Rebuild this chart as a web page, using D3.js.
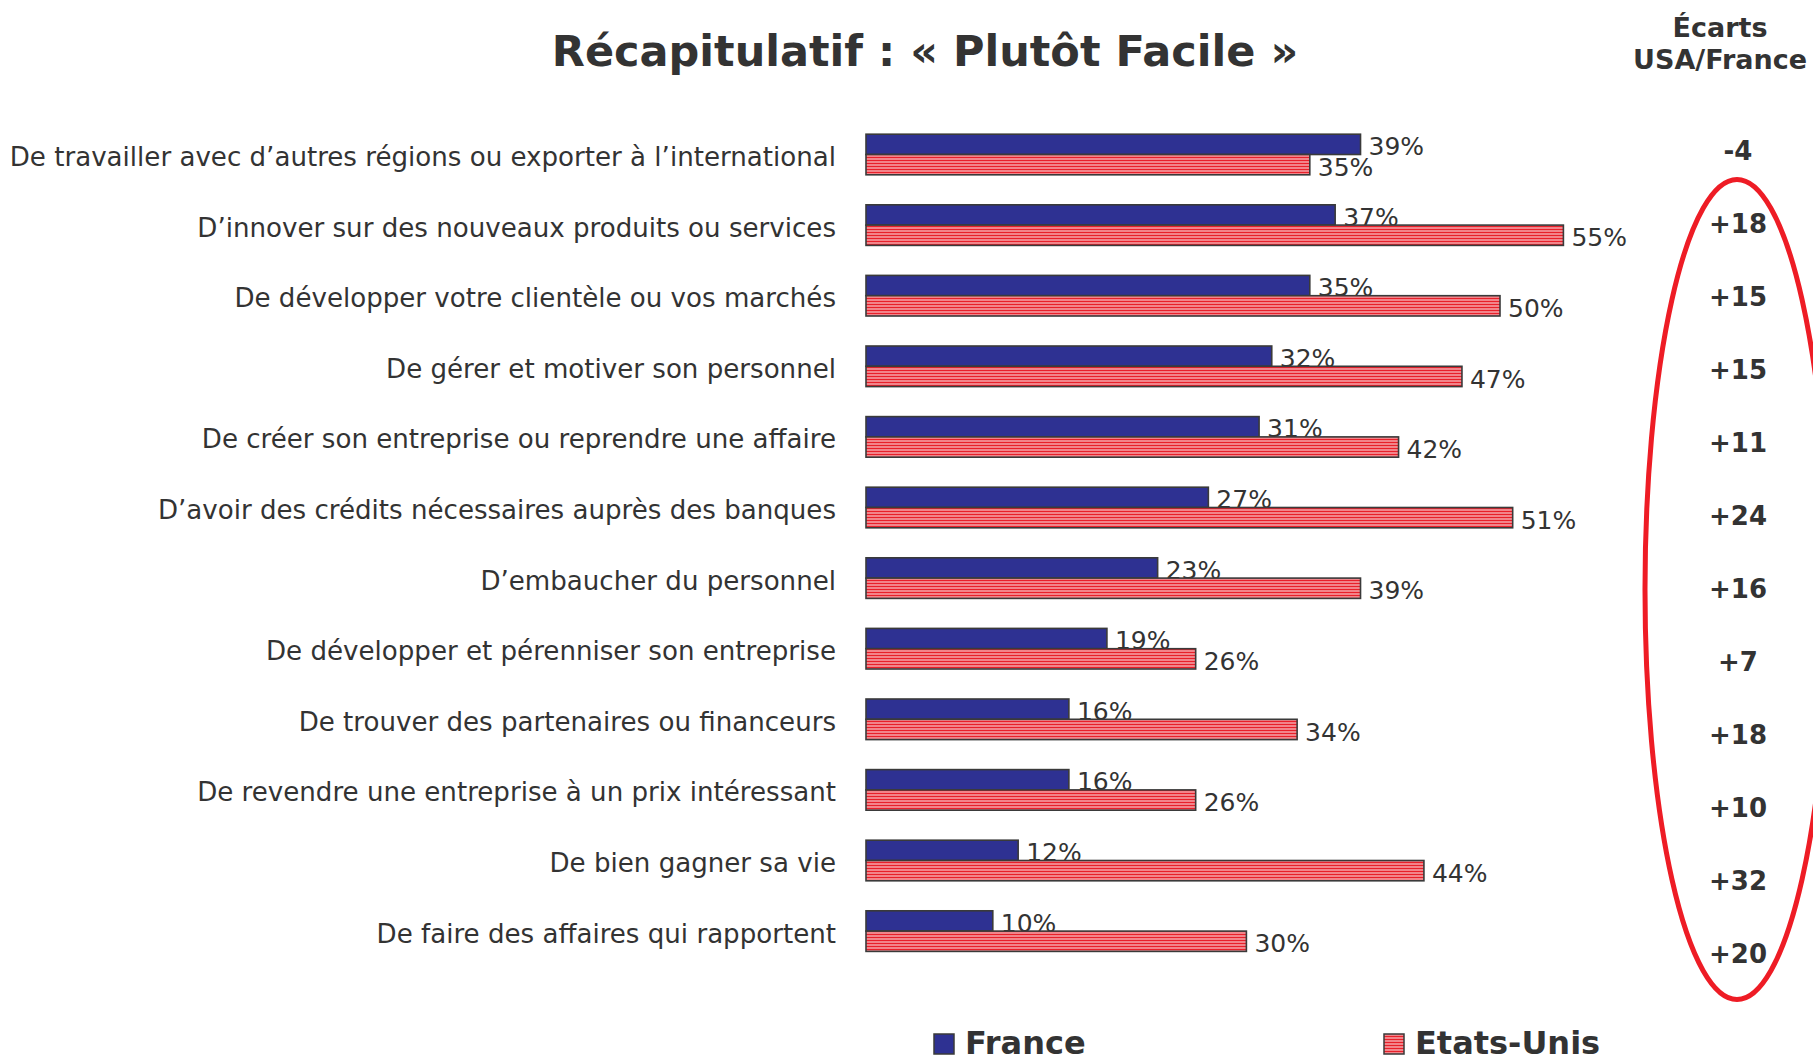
<!DOCTYPE html>
<html>
<head>
<meta charset="utf-8">
<script src="https://cdn.jsdelivr.net/npm/d3@7/dist/d3.min.js"></script>
<style>
  html, body { margin: 0; padding: 0; background: #ffffff; }
  svg { display: block; }
  text { font-family: "DejaVu Sans", Verdana, sans-serif; fill: #333333; }
</style>
</head>
<body>
<svg id="chart" width="1813" height="1064"></svg>
<script>
const categories = [
  "De travailler avec d’autres régions ou exporter à l’international",
  "D’innover sur des nouveaux produits ou services",
  "De développer votre clientèle ou vos marchés",
  "De gérer et motiver son personnel",
  "De créer son entreprise ou reprendre une affaire",
  "D’avoir des crédits nécessaires auprès des banques",
  "D’embaucher du personnel",
  "De développer et pérenniser son entreprise",
  "De trouver des partenaires ou financeurs",
  "De revendre une entreprise à un prix intéressant",
  "De bien gagner sa vie",
  "De faire des affaires qui rapportent"
];
const franceValues = [39, 37, 35, 32, 31, 27, 23, 19, 16, 16, 12, 10];
const usaValues    = [35, 55, 50, 47, 42, 51, 39, 26, 34, 26, 44, 30];
const ecartLabels  = ["-4", "+18", "+15", "+15", "+11", "+24", "+16", "+7", "+18", "+10", "+32", "+20"];
const seriesNames  = ["France", "Etats-Unis"];
const titleText    = "Récapitulatif : « Plutôt Facile »";
const ecartHeader  = ["Écarts", "USA/France"];

const svg = d3.select("#chart");
const NAVY = "#2e3192", RED = "#e8202a", EDGE = "#3a3a3a";

// stripe pattern for USA
const defs = svg.append("defs");
const pat = defs.append("pattern")
  .attr("id", "stripes").attr("patternUnits", "userSpaceOnUse")
  .attr("width", 6).attr("height", 3).attr("y", 0.5);
pat.append("rect").attr("width", 6).attr("height", 3).attr("fill", "#ffffff");
pat.append("rect").attr("width", 6).attr("height", 2.1).attr("fill", RED);

const x = d3.scaleLinear().domain([0, 55]).range([866, 866 + 55 * 12.68]);
const y = d3.scaleBand().domain(categories).range([119.2, 119.2 + 12 * 70.6]).paddingInner(0).paddingOuter(0);
const barH = 20.3;
const mid = c => y(c) + y.bandwidth() / 2;

const data = categories.map((c, i) => ({ c, fr: franceValues[i], us: usaValues[i], ec: ecartLabels[i] }));

// Title
svg.append("text").attr("x", 925).attr("y", 66).attr("text-anchor", "middle")
  .style("font-size", "43px").style("font-weight", "bold").text(titleText);

// Ecart header
svg.append("text").attr("x", 1720).attr("y", 37).attr("text-anchor", "middle")
  .style("font-size", "27px").style("font-weight", "bold").text(ecartHeader[0]);
svg.append("text").attr("x", 1720).attr("y", 69).attr("text-anchor", "middle")
  .style("font-size", "27px").style("font-weight", "bold").text(ecartHeader[1]);

// Category labels
svg.append("g").selectAll("text").data(data).join("text")
  .attr("x", 836).attr("y", d => mid(d.c) + 11.5).attr("text-anchor", "end")
  .style("font-size", "26.1px").text(d => d.c);

// France bars
svg.append("g").selectAll("rect").data(data).join("rect")
  .attr("x", x(0)).attr("y", d => mid(d.c) - barH)
  .attr("width", d => x(d.fr) - x(0)).attr("height", barH)
  .attr("fill", NAVY).attr("stroke", EDGE).attr("stroke-width", 1.6);

// France value labels
svg.append("g").selectAll("text").data(data).join("text")
  .attr("x", d => x(d.fr) + 8).attr("y", d => mid(d.c) + 0.5)
  .style("font-size", "25px").text(d => d.fr + "%");

// USA bars
svg.append("g").selectAll("rect").data(data).join("rect")
  .attr("x", x(0)).attr("y", d => mid(d.c))
  .attr("width", d => x(d.us) - x(0)).attr("height", barH)
  .attr("fill", "url(#stripes)").attr("stroke", EDGE).attr("stroke-width", 1.6);

// USA value labels
svg.append("g").selectAll("text").data(data).join("text")
  .attr("x", d => x(d.us) + 8).attr("y", d => mid(d.c) + barH + 1)
  .style("font-size", "25px").text(d => d.us + "%");

// Ecart values
const yE = d3.scalePoint().domain(categories).range([160, 963]);
svg.append("g").selectAll("text").data(data).join("text")
  .attr("x", 1738).attr("y", d => yE(d.c)).attr("text-anchor", "middle")
  .style("font-size", "26px").style("font-weight", "bold").text(d => d.ec);

// Red ellipse
svg.append("ellipse").attr("cx", 1737).attr("cy", 589.5).attr("rx", 92).attr("ry", 410)
  .attr("fill", "none").attr("stroke", "#ee1c25").attr("stroke-width", 5);

// Legend
const legend = svg.append("g");
const legItems = [
  { name: seriesNames[0], fill: NAVY, sx: 934, tx: 965 },
  { name: seriesNames[1], fill: "url(#stripes)", sx: 1384, tx: 1415 }
];
legend.selectAll("rect").data(legItems).join("rect")
  .attr("x", d => d.sx).attr("y", 1034).attr("width", 20).attr("height", 20)
  .attr("fill", d => d.fill).attr("stroke", EDGE).attr("stroke-width", 1.5);
legend.selectAll("text").data(legItems).join("text")
  .attr("x", d => d.tx).attr("y", 1054)
  .style("font-size", "32px").style("font-weight", "bold").text(d => d.name);
</script>
</body>
</html>
